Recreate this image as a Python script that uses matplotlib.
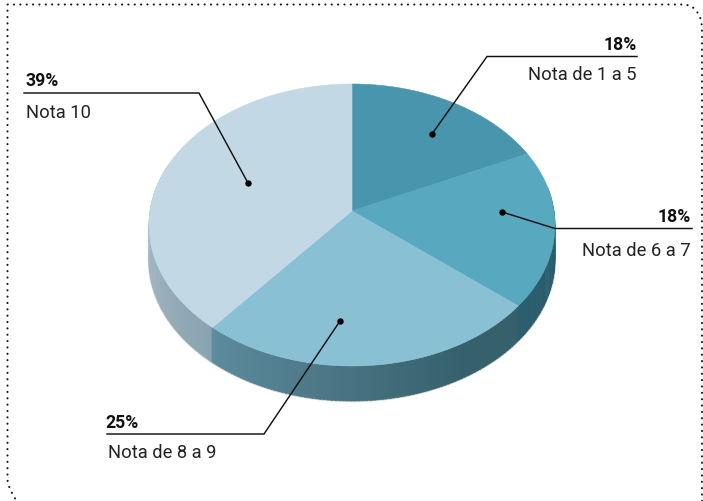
import matplotlib
matplotlib.use("Agg")
import matplotlib.pyplot as plt
from matplotlib.path import Path
from matplotlib.patches import PathPatch
import numpy as np

# chart data
categories = ["Nota de 1 a 5", "Nota de 6 a 7", "Nota de 8 a 9", "Nota 10"]
values = [18, 18, 25, 39]
value_labels = ["18%", "18%", "25%", "39%"]
colors = ["#4896ad", "#58a9c0", "#89c0d3", "#c2d9e5"]

plt.rcParams["font.family"] = ["Roboto", "DejaVu Sans"]

fig = plt.figure(figsize=(7.03, 5.02), dpi=100)
ax = fig.add_axes([0, 0, 1, 1])
ax.set_xlim(0, 703)
ax.set_ylim(502, 0)
ax.axis("off")

# pie geometry, in pixels
cx, cy = 352, 226
rx, ry = 202, 141
persp = 0.1
depth = 35


def project(deg):
    # point on the disc rim, angle clockwise from the top, seen in perspective
    t = np.radians(deg)
    u, v = np.sin(t), np.cos(t)
    w = 1 + persp * v
    x = cx + rx * u / w
    y = cy - (ry * v + ry * persp) / w
    return x, y


apex_x = cx
apex_y = cy - ry * persp

edges = np.concatenate([[0], np.cumsum(values)]) * 360 / sum(values)


def shade(deg):
    # hand picked shading of the side, per slice
    if deg < edges[2]:
        c0, c1, a0, a1 = "#1f5a6c", "#2c5e6e", edges[0] + 60, edges[2]
    elif deg < edges[3]:
        c0, c1, a0, a1 = "#35606c", "#5f8c9e", 150, edges[3]
    else:
        c0, c1, a0, a1 = "#8aa3b0", "#a9bec9", edges[3], 275
    f = min(max((deg - a0) / (a1 - a0), 0), 1)
    rgb0 = np.array(matplotlib.colors.to_rgb(c0))
    rgb1 = np.array(matplotlib.colors.to_rgb(c1))
    return tuple(rgb0 + (rgb1 - rgb0) * f)


angles = np.arange(80, 290, 1.0)
for a in angles:
    xs, ys = project(np.array([a, a + 1.3]))
    ax.fill([xs[0], xs[1], xs[1], xs[0]],
            [ys[0], ys[1], ys[1] + depth, ys[0] + depth],
            color=shade(a), lw=0.3, zorder=2)

# soft edge under the side
xs, ys = project(angles)
ax.plot(xs, ys + depth, color="#555555", lw=1.6, alpha=0.3, zorder=1)

# top face of the pie
for i, col in enumerate(colors):
    arc = np.linspace(edges[i], edges[i + 1], 120)
    xs, ys = project(arc)
    ax.fill(np.r_[apex_x, xs], np.r_[apex_y, ys], color=col, lw=0.4, zorder=3)

# leaders
dots = [(432, 135), (502, 213), (340, 322), (248, 184)]
elbows = [(487, 57.5), (555, 229.5), (264, 435), (199, 94)]
ends = [(637, 57.5), (692, 229.5), (107, 435), (24, 94)]
for d, e, n in zip(dots, elbows, ends):
    ax.plot([d[0], e[0], n[0]], [d[1], e[1], n[1]], color="#111111", lw=1.05, zorder=5,
            solid_joinstyle="miter")
    ax.plot(d[0], d[1], "o", color="black", ms=3.6, zorder=6)

# labels
pct_pos = [(637, 50, "right"), (691, 222, "right"), (105, 428, "left"), (26, 86, "left")]
name_pos = [(637, 80, "right"), (691, 256, "right"), (108, 458, "left"), (26, 118, "left")]
for lab, name, p, q in zip(value_labels, categories, pct_pos, name_pos):
    ax.text(p[0], p[1], lab, ha=p[2], va="baseline", fontsize=12.7, fontweight="bold",
            color="#111111", zorder=7)
    ax.text(q[0], q[1], name, ha=q[2], va="baseline", fontsize=13.2, color="#222222", zorder=7)

# dotted frame, rounded at top right and bottom left
frame = Path(
    [(22, 510), (7.5, 490), (7.5, 480), (7.5, 5.5), (683, 5.5), (696, 5.5), (702, 18), (702, 30), (702, 510)],
    [Path.MOVETO, Path.CURVE3, Path.CURVE3, Path.LINETO, Path.LINETO,
     Path.CURVE4, Path.CURVE4, Path.CURVE4, Path.LINETO],
)
ax.add_patch(PathPatch(frame, fill=False, edgecolor="#111111", lw=1.5,
                       linestyle=(0, (0.05, 3.0)), capstyle="round", zorder=8))

fig.savefig("out.png", dpi=100)
